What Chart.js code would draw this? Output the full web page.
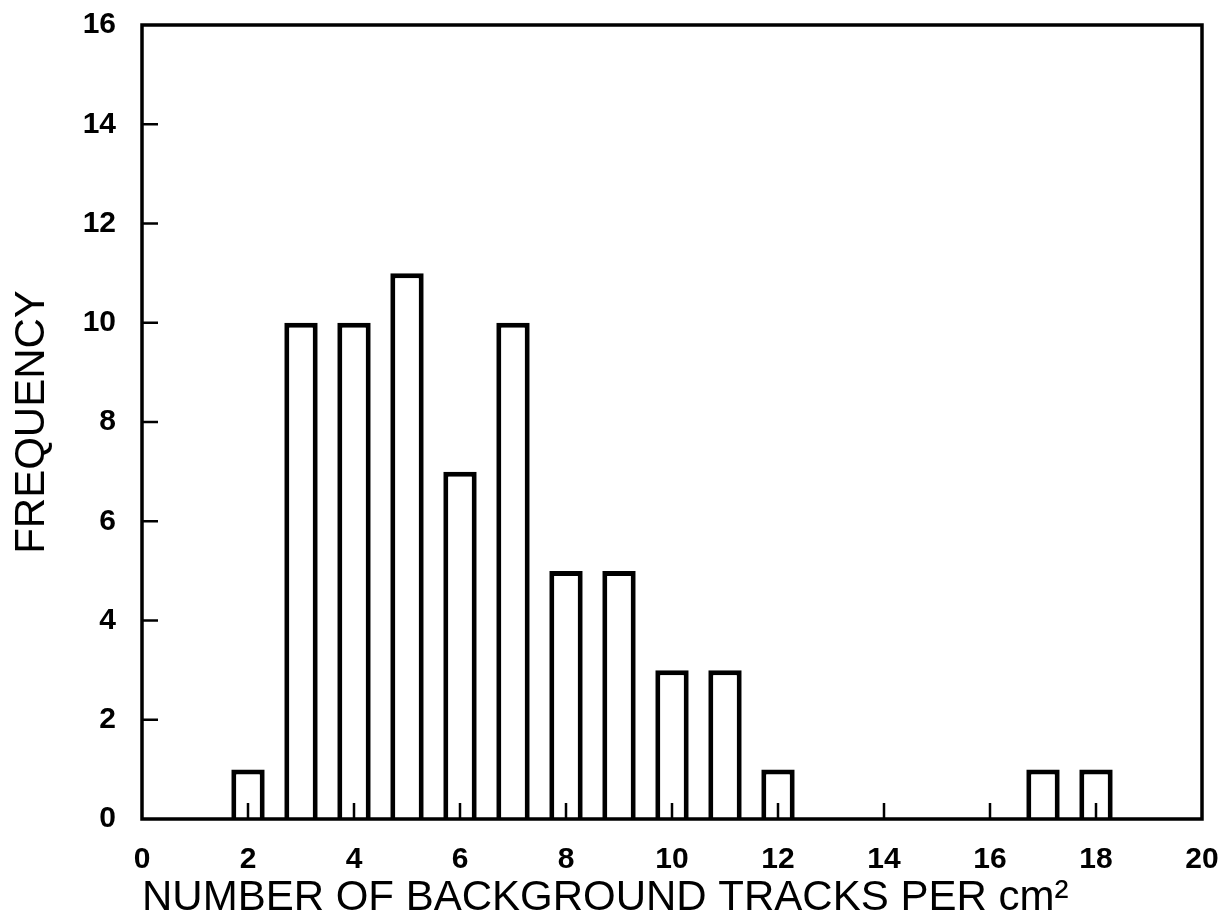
<!DOCTYPE html>
<html>
<head>
<meta charset="utf-8">
<script src="https://cdn.jsdelivr.net/npm/chart.js@4.4.1/dist/chart.umd.min.js"></script>
<style>
  html, body { margin: 0; padding: 0; background: #fff; }
  canvas { display: block; }
</style>
</head>
<body>
<canvas id="histograma" width="1227" height="924"></canvas>
<script>
const trackCounts = [2, 3, 4, 5, 6, 7, 8, 9, 10, 11, 12, 17, 18];
const frequencies = [1, 10, 10, 11, 7, 10, 5, 5, 3, 3, 1, 1, 1];
const xTickValues = [0, 2, 4, 6, 8, 10, 12, 14, 16, 18, 20];
const yTickValues = [0, 2, 4, 6, 8, 10, 12, 14, 16];

const tickFont = { family: "'Liberation Sans', Arial, sans-serif", size: 30, weight: 'bold' };
const titleFont = { family: "'Liberation Sans', Arial, sans-serif", size: 42, weight: 'normal' };

// marco y marcas hacia dentro
const marcoPlugin = {
    id: 'marco',
    afterDatasetsDraw(chart) {
        const { ctx, chartArea, scales } = chart;
        ctx.save();
        ctx.strokeStyle = '#000';
        ctx.lineWidth = 3.5;
        ctx.strokeRect(chartArea.left, chartArea.top, chartArea.right - chartArea.left, chartArea.bottom - chartArea.top);
        ctx.lineWidth = 2.5;
        ctx.beginPath();
        xTickValues.slice(1, -1).forEach(v => {
            const px = scales.x.getPixelForValue(v);
            ctx.moveTo(px, chartArea.bottom);
            ctx.lineTo(px, chartArea.bottom - 16);
        });
        yTickValues.slice(1, -1).forEach(v => {
            const py = scales.y.getPixelForValue(v);
            ctx.moveTo(chartArea.left, py);
            ctx.lineTo(chartArea.left + 16, py);
        });
        ctx.stroke();
        ctx.restore();
    }
};

const ctx = document.getElementById('histograma').getContext('2d');
new Chart(ctx, {
    type: 'bar',
    data: {
        datasets: [{
            label: 'Frequency',
            data: trackCounts.map((x, i) => ({ x: x, y: frequencies[i] })),
            backgroundColor: '#fff',
            borderColor: '#000',
            borderWidth: 5,
            borderSkipped: 'bottom',
            barPercentage: 0.63,
            categoryPercentage: 1
        }]
    },
    options: {
        responsive: false,
        animation: false,
        layout: { padding: { top: 25, right: 25, left: 0, bottom: 0 } },
        plugins: { legend: { display: false }, tooltip: { enabled: false } },
        scales: {
            x: {
                type: 'linear',
                min: 0,
                max: 20,
                offset: false,
                grid: { display: false, offset: false, drawTicks: false },
                border: { display: false },
                afterBuildTicks: s => { s.ticks = xTickValues.map(v => ({ value: v })); },
                afterFit: s => {
                    s.height = 924 - 819;
                    s.paddingLeft = 0;
                    s.paddingRight = 0;
                },
                ticks: { color: '#000', font: tickFont, padding: 23, maxRotation: 0 },
                title: {
                    display: true,
                    align: 'start',
                    text: 'NUMBER OF BACKGROUND TRACKS PER cm²',
                    color: '#000',
                    font: titleFont,
                    padding: { top: 0, bottom: 0 }
                }
            },
            y: {
                min: 0,
                max: 16,
                grid: { display: false, drawTicks: false },
                border: { display: false },
                afterBuildTicks: s => { s.ticks = yTickValues.map(v => ({ value: v })); },
                afterFit: s => {
                    s.width = 142;
                    s.paddingTop = 0;
                    s.paddingBottom = 0;
                },
                ticks: { color: '#000', font: tickFont, padding: 26 },
                title: {
                    display: true,
                    text: 'FREQUENCY',
                    color: '#000',
                    font: titleFont,
                    padding: { top: 7, bottom: 0 }
                }
            }
        }
    },
    plugins: [marcoPlugin]
});
</script>
</body>
</html>
